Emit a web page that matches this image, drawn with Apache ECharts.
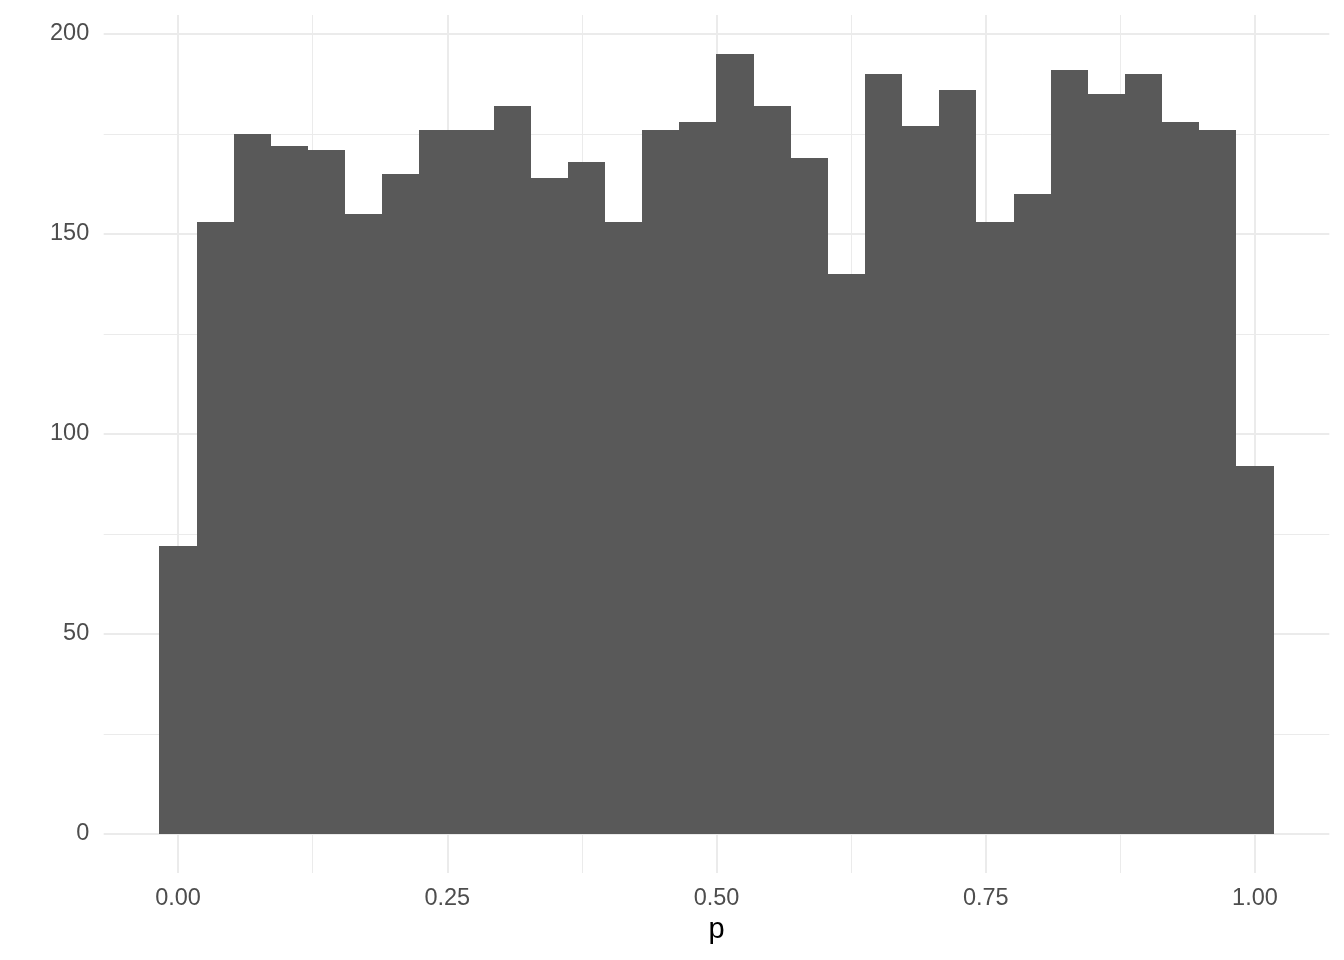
<!DOCTYPE html>
<html>
<head>
<meta charset="utf-8">
<script src="https://cdn.jsdelivr.net/npm/echarts@6/dist/echarts.min.js"></script>
<style>
html,body{margin:0;padding:0;background:#fff;}
#chart{width:1344px;height:960px;}
</style>
</head>
<body>
<div id="chart"></div>
<script>
// Histogram of p: 30 bins, bin width ~ 0.0345
const binWidth = 0.0345;
const binCenters = [0.0000, 0.0345, 0.0690, 0.1034, 0.1379, 0.1724, 0.2069, 0.2414, 0.2759, 0.3103,
                    0.3448, 0.3793, 0.4138, 0.4483, 0.4828, 0.5172, 0.5517, 0.5862, 0.6207, 0.6552,
                    0.6897, 0.7241, 0.7586, 0.7931, 0.8276, 0.8621, 0.8966, 0.9310, 0.9655, 1.0000];
const counts = [72, 153, 175, 172, 171, 155, 165, 176, 176, 182,
                164, 168, 153, 176, 178, 195, 182, 169, 140, 190,
                177, 186, 153, 160, 191, 185, 190, 178, 176, 92];
const xMajorTicks = [0, 0.25, 0.5, 0.75, 1];
const xMinorTicks = [0.125, 0.375, 0.625, 0.875];
const yMajorTicks = [0, 50, 100, 150, 200];
const yMinorTicks = [25, 75, 125, 175];
const xTitle = 'p';

const FONT = "'Liberation Sans', Arial, Helvetica, sans-serif";
const GRID_COLOR = '#EBEBEB';

const chart = echarts.init(document.getElementById('chart'));

function gridLines(xs, ys) {
  return xs.map(v => ({ xAxis: v })).concat(ys.map(v => ({ yAxis: v })));
}

const option = {
  animation: false,
  backgroundColor: '#ffffff',
  grid: { left: 103.7, right: 14.7, top: 15, bottom: 87, containLabel: false },
  xAxis: {
    type: 'value',
    min: -0.069, max: 1.069,
    name: xTitle,
    nameLocation: 'middle',
    nameGap: 42,
    nameTextStyle: { color: '#000000', fontSize: 29, fontFamily: FONT },
    axisLine: { show: false },
    axisTick: { show: false },
    splitLine: { show: false },
    axisLabel: {
      customValues: xMajorTicks,
      formatter: v => Number(v).toFixed(2),
      color: '#4D4D4D', fontSize: 23.5, fontFamily: FONT, margin: 14
    }
  },
  yAxis: {
    type: 'value',
    min: -9.75, max: 204.75,
    axisLine: { show: false },
    axisTick: { show: false },
    splitLine: { show: false },
    axisLabel: {
      customValues: yMajorTicks,
      formatter: v => String(Math.round(v)),
      color: '#4D4D4D', fontSize: 23.5, fontFamily: FONT, margin: 14.5
    }
  },
  series: [
    {
      type: 'line', data: [], z: 1, silent: true,
      markLine: {
        silent: true, symbol: ['none', 'none'], label: { show: false },
        precision: 6,
        lineStyle: { color: GRID_COLOR, width: 1, type: 'solid' },
        emphasis: { disabled: true },
        data: gridLines(xMinorTicks, yMinorTicks)
      }
    },
    {
      type: 'line', data: [], z: 1, silent: true,
      markLine: {
        silent: true, symbol: ['none', 'none'], label: { show: false },
        precision: 6,
        lineStyle: { color: GRID_COLOR, width: 2, type: 'solid' },
        emphasis: { disabled: true },
        data: gridLines(xMajorTicks, yMajorTicks)
      }
    },
    {
      type: 'custom', z: 5, silent: true,
      data: binCenters.map((c, i) => [c, counts[i]]),
      renderItem: function (params, api) {
        const c = api.value(0), n = api.value(1);
        const p0 = api.coord([c - binWidth / 2, n]);
        const p1 = api.coord([c + binWidth / 2, 0]);
        const x0 = Math.round(p0[0]), x1 = Math.round(p1[0]);
        const y0 = Math.round(p0[1]), y1 = Math.round(p1[1]);
        return {
          type: 'rect',
          shape: { x: x0, y: y0, width: x1 - x0, height: y1 - y0 },
          style: { fill: '#595959' }
        };
      }
    }
  ]
};
chart.setOption(option);
</script>
</body>
</html>
